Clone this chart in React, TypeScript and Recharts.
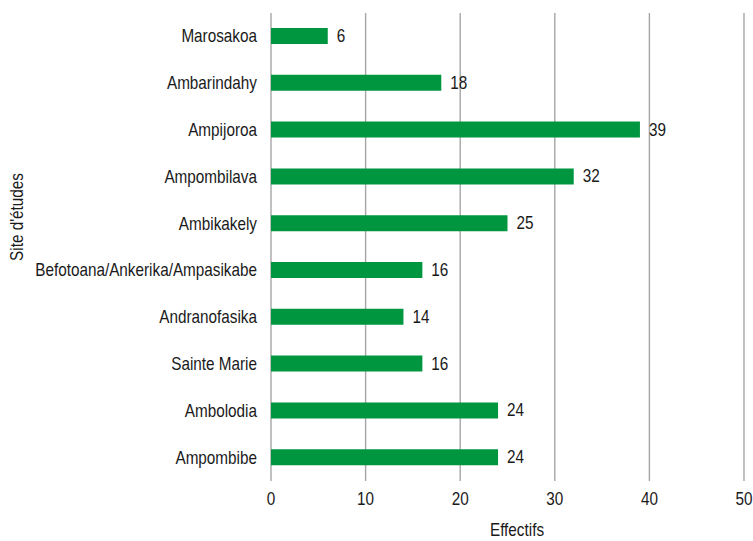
import { BarChart, Bar, XAxis, YAxis, CartesianGrid, LabelList, Label } from 'recharts';

const sites = [
    'Marosakoa',
    'Ambarindahy',
    'Ampijoroa',
    'Ampombilava',
    'Ambikakely',
    'Befotoana/Ankerika/Ampasikabe',
    'Andranofasika',
    'Sainte Marie',
    'Ambolodia',
    'Ampombibe',
];
const effectifs = [6, 18, 39, 32, 25, 16, 14, 16, 24, 24];
const xTicks = [0, 10, 20, 30, 40, 50];

const data = sites.map((site, i) => ({ site, value: effectifs[i] }));

const FONT = '"Liberation Sans", Arial, sans-serif';
const TEXT = '#1a1a1a';
const SQUEEZE = 0.85; // reference uses a narrow Arial

// text drawn with Liberation Sans squeezed horizontally to look like Arial Narrow
function Narrow({ x, y, anchor, children, baseline = 'central', rotate = 0 }: any) {
    return (
        <text
            transform={`translate(${x},${y}) rotate(${rotate}) scale(${SQUEEZE},1)`}
            textAnchor={anchor}
            dominantBaseline={baseline}
            fill={TEXT}
            fontSize={18}
            fontFamily={FONT}
        >
            {children}
        </text>
    );
}

const YTick = (props: any) => (
    <Narrow x={props.x} y={props.y} anchor="end">{props.payload.value}</Narrow>
);

const XTick = (props: any) => (
    <Narrow x={props.x} y={props.y + 8} anchor="middle">{props.payload.value}</Narrow>
);

const ValueLabel = (props: any) => (
    <Narrow x={props.x + props.width + 9} y={props.y + props.height / 2} anchor="start">{props.value}</Narrow>
);

export default function App() {
    return (
        <div style={{ position: 'absolute', left: 0, top: 0, width: 753, height: 541, background: '#fff' }}>
            <BarChart
                width={753}
                height={541}
                data={data}
                layout="vertical"
                margin={{ top: 13, right: 9, bottom: 0, left: 0 }}
            >
                <CartesianGrid horizontal={false} stroke="#a6a6a6" strokeWidth={1.4} />
                <XAxis
                    type="number"
                    domain={[0, 50]}
                    ticks={xTicks}
                    axisLine={false}
                    tickLine={false}
                    tickSize={0}
                    tickMargin={10}
                    height={60}
                    tick={<XTick />}
                >
                    <Label content={() => <Narrow x={517} y={530} anchor="middle">Effectifs</Narrow>} />
                </XAxis>
                <YAxis
                    type="category"
                    dataKey="site"
                    width={271}
                    axisLine={false}
                    tickLine={false}
                    tickSize={0}
                    tickMargin={14}
                    interval={0}
                    tick={<YTick />}
                >
                    <Label content={() => <Narrow x={17} y={217} anchor="middle" rotate={-90}>Site d'études</Narrow>} />
                </YAxis>
                <Bar dataKey="value" fill="#009640" barSize={16} isAnimationActive={false}>
                    <LabelList dataKey="value" content={<ValueLabel />} />
                </Bar>
            </BarChart>
        </div>
    );
}
